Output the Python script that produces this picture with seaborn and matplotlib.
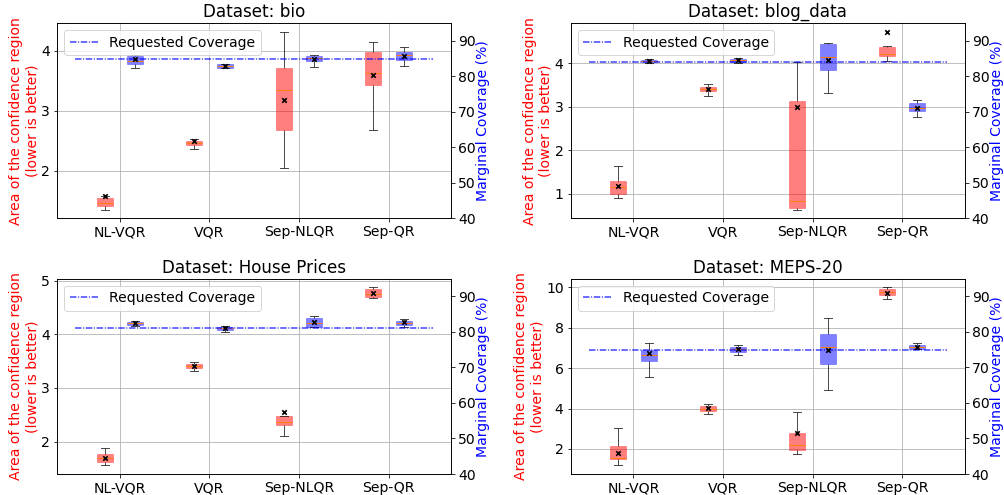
import numpy as np
import pandas as pd
import matplotlib
matplotlib.use("Agg")
import matplotlib.pyplot as plt
import seaborn as sns
from matplotlib.ticker import MultipleLocator

plt.rcParams["font.size"] = 14

methods = ["NL-VQR", "VQR", "Sep-NLQR", "Sep-QR"]
titles = ["Dataset: bio", "Dataset: blog_data", "Dataset: House Prices", "Dataset: MEPS-20"]

# five-number summaries per method: [low whisker, Q1, median, Q3, high whisker]
area_bio = [[1.35, 1.405, 1.46, 1.54, 1.57], [2.36, 2.42, 2.46, 2.50, 2.53],
            [2.04, 2.68, 3.345, 3.71, 4.31], [2.68, 3.42, 3.62, 3.98, 4.145]]
area_bio_mean = [1.57, 2.49, 3.18, 3.60]
cov_bio = [[82.2, 83.6, 84.4, 85.8, 86.0], [82.2, 82.4, 82.9, 83.4, 83.55],
           [82.7, 84.2, 85.2, 85.8, 86.1], [82.9, 84.6, 85.9, 86.8, 88.2]]
cov_bio_mean = [85.0, 82.9, 85.0, 85.7]

area_blog = [[0.906, 1.0, 1.165, 1.297, 1.65], [3.25, 3.36, 3.42, 3.46, 3.53],
             [0.64, 0.676, 0.84, 3.14, 4.02], [4.055, 4.17, 4.22, 4.37, 4.40]]
area_blog_mean = [1.19, 3.41, 3.0, 4.72]
cov_blog = [[83.8, 84.0, 84.3, 84.6, 84.8], [83.8, 84.0, 84.5, 84.95, 85.1],
            [75.2, 81.8, 85.4, 89.1, 89.4], [68.6, 70.2, 71.2, 72.5, 73.3]]
cov_blog_mean = [84.3, 84.5, 84.5, 71.1]

area_house = [[1.56, 1.62, 1.69, 1.765, 1.88], [3.31, 3.37, 3.40, 3.44, 3.48],
              [2.10, 2.305, 2.37, 2.47, 2.48], [4.665, 4.69, 4.75, 4.84, 4.87]]
area_house_mean = [1.70, 3.41, 2.55, 4.77]
cov_house = [[81.7, 82.0, 82.4, 82.9, 83.1], [80.0, 80.6, 81.0, 81.4, 81.7],
             [81.3, 81.3, 82.5, 83.8, 84.5], [81.5, 82.0, 82.6, 83.2, 83.7]]
cov_house_mean = [82.4, 81.1, 82.8, 82.7]

area_meps = [[1.20, 1.48, 1.56, 2.13, 3.06], [3.73, 3.88, 4.0, 4.11, 4.23],
             [1.73, 1.93, 2.22, 2.78, 3.83], [9.43, 9.6, 9.75, 9.93, 9.99]]
area_meps_mean = [1.79, 4.03, 2.81, 9.73]
cov_meps = [[67.3, 71.7, 73.5, 74.97, 76.75], [73.5, 74.3, 75.3, 75.8, 76.2],
            [63.6, 71.0, 75.7, 79.5, 83.8], [75.25, 75.3, 75.8, 76.3, 77.0]]
cov_meps_mean = [74.2, 75.1, 74.9, 75.8]

requested = [85, 84, 81, 75]
left_steps = [1, 1, 1, 2]

datasets = [
    (area_bio, area_bio_mean, cov_bio, cov_bio_mean),
    (area_blog, area_blog_mean, cov_blog, cov_blog_mean),
    (area_house, area_house_mean, cov_house, cov_house_mean),
    (area_meps, area_meps_mean, cov_meps, cov_meps_mean),
]

OFFSET = 0.17
WIDTH = 0.18


def long_form(summary, shift):
    xs, ys = [], []
    for i, vals in enumerate(summary):
        xs += [i + shift] * len(vals)
        ys += list(vals)
    return pd.DataFrame({"pos": xs, "val": ys})


def draw_boxes(ax, summary, means, shift, color):
    df = long_form(summary, shift)
    sns.boxplot(data=df, x="pos", y="val", native_scale=True, orient="x",
                width=WIDTH, whis=(0, 100), showfliers=False, fill=True,
                linewidth=1.0,
                boxprops=dict(facecolor=matplotlib.colors.to_rgba(color, 0.5),
                              edgecolor=matplotlib.colors.to_rgba(color, 0.3)),
                medianprops=dict(color="#ff7f0e", linewidth=1.0),
                whiskerprops=dict(color=(0, 0, 0, 0.7), linewidth=1.0),
                capprops=dict(color=(0, 0, 0, 0.7), linewidth=1.0),
                ax=ax)
    sns.scatterplot(x=np.arange(len(means)) + shift, y=means, marker="x",
                    color="black", s=20, linewidth=1.7, ax=ax, zorder=6)


fig, axes = plt.subplots(2, 2, figsize=(1004 / 72, 495 / 72), dpi=72)
fig.subplots_adjust(left=0.057, right=0.961, bottom=0.0424, top=0.9535,
                    wspace=0.303, hspace=0.308)

for k, ax in enumerate(axes.flat):
    area, area_mean, cov, cov_mean = datasets[k]
    draw_boxes(ax, area, area_mean, -OFFSET, "red")
    ax2 = ax.twinx()
    draw_boxes(ax2, cov, cov_mean, OFFSET, "blue")
    ax2.hlines(requested[k], -0.5, len(methods) - 0.5, colors="blue",
               linestyles=(0, (4.3, 1.1, 0.7, 1.1)), linewidth=1.5, alpha=0.75,
               label="Requested Coverage", zorder=4)
    ax2.set_ylim(40, 95)
    ax2.yaxis.set_major_locator(MultipleLocator(10))
    ax2.set_ylabel("Marginal Coverage (%)", color="blue", labelpad=0)
    ax2.set_xlabel("")
    ax2.legend(loc="upper left")

    ax.set_xticks(np.arange(len(methods)))
    ax.set_xticklabels(methods)
    ax.set_xlim(-0.7, 3.7)
    ax.yaxis.set_major_locator(MultipleLocator(left_steps[k]))
    ax.grid(True, color="#b0b0b0", linewidth=0.8)
    ax.set_xlabel("")
    ax.set_ylabel("Area of the confidence region\n(lower is better)", color="red",
                  labelpad=2)
    ax.set_title(titles[k])

fig.savefig("out.png", dpi=72)
